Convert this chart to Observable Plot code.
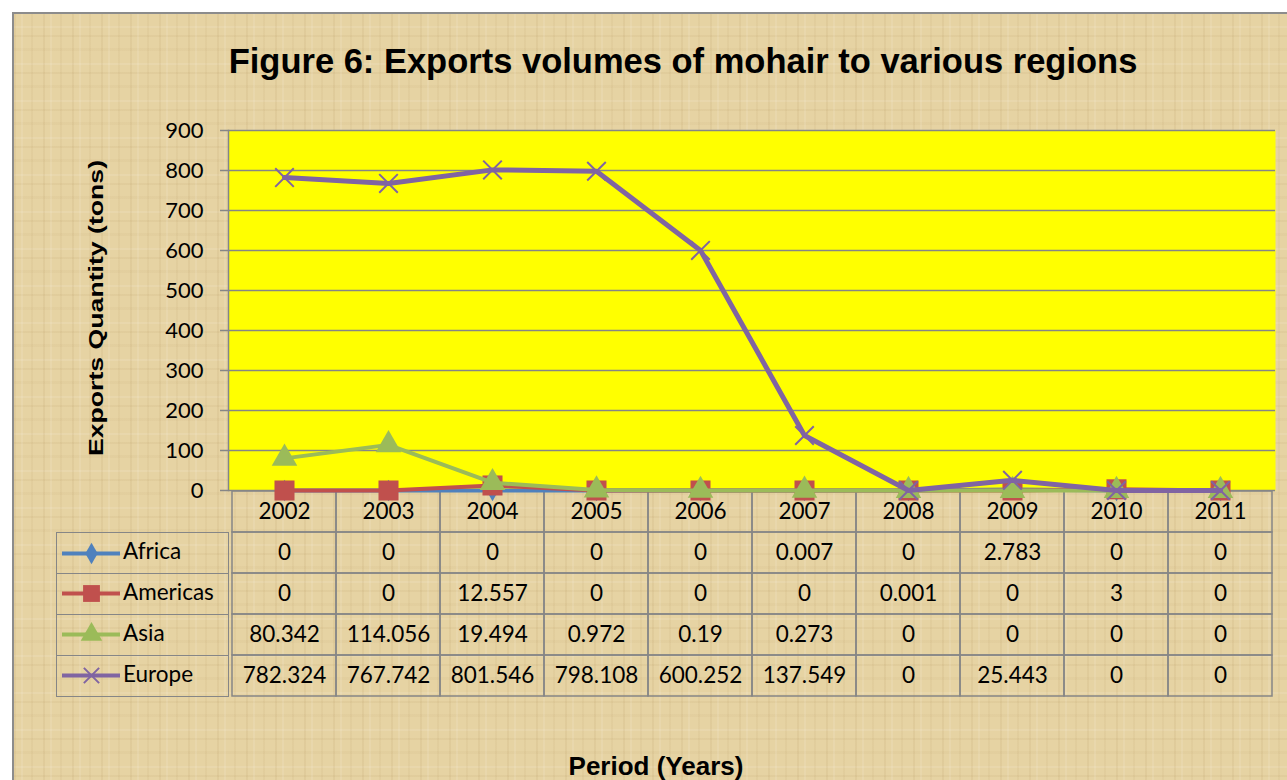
<!DOCTYPE html>
<html>
<head>
<meta charset="utf-8">
<script src="https://cdn.jsdelivr.net/npm/d3@7"></script>
<script src="https://cdn.jsdelivr.net/npm/@observablehq/plot@0.6"></script>
<style>
  html, body { margin: 0; padding: 0; }
  body { width: 1287px; height: 780px; overflow: hidden; background: #fff; position: relative; font-family: Lato, "Open Sans", sans-serif; }
  #bg {
    position: absolute; left: 12px; top: 12px; width: 1300px; height: 800px;
    border: 2px solid #8c8c8c;
    background:
      repeating-linear-gradient(90deg, rgba(140,100,40,0.07) 0 2px, transparent 2px 7px, rgba(255,255,255,0.10) 7px 9px, transparent 9px 17px, rgba(140,100,40,0.05) 17px 19px, transparent 19px 29px),
      repeating-linear-gradient(0deg, rgba(140,100,40,0.06) 0 2px, transparent 2px 9px, rgba(255,255,255,0.10) 9px 11px, transparent 11px 23px, rgba(140,100,40,0.04) 23px 26px, transparent 26px 37px),
      #E6D3A3;
  }
  #title { position: absolute; left: 0; width: 1366px; top: 42px; text-align: center; font: bold 34.5px "Liberation Sans", Arial, sans-serif; color: #000; white-space: nowrap; }
  #ylabel { position: absolute; left: 96px; top: 308px; transform: translate(-50%, -50%) rotate(-90deg) scaleX(1.3); white-space: nowrap; font: bold 20.5px "Liberation Sans", Arial, sans-serif; color: #000; }
  #xlabel { position: absolute; left: 656px; top: 766px; transform: translate(-50%, -50%) scaleX(1.0); white-space: nowrap; font: bold 26px "Liberation Sans", Arial, sans-serif; color: #000; }
  #chart { position: absolute; left: 0; top: 100px; z-index: 2; }
  #table { position: absolute; left: 0; top: 490px; z-index: 1; }
  #legend { position: absolute; z-index: 1; }
  .lrow { position: absolute; box-sizing: border-box; border: 1.5px solid #868686; border-top: none; display: flex; align-items: center; font-size: 22px; color: #000; }
  .lrow svg { margin-left: 5px; margin-right: 3px; flex: none; }
  .lrow span { position: relative; top: -2px; }
</style>
</head>
<body>
<div id="bg"></div>
<div id="title">Figure 6: Exports volumes of mohair to various regions</div>
<div id="ylabel">Exports Quantity (tons)</div>
<div id="xlabel">Period (Years)</div>
<div id="chart"></div>
<div id="table"></div>
<div id="legend"></div>
<script>
// ---- data ----
const years = ["2002", "2003", "2004", "2005", "2006", "2007", "2008", "2009", "2010", "2011"];
const africa   = [0, 0, 0, 0, 0, 0.007, 0, 2.783, 0, 0];
const americas = [0, 0, 12.557, 0, 0, 0, 0.001, 0, 3, 0];
const asia     = [80.342, 114.056, 19.494, 0.972, 0.19, 0.273, 0, 0, 0, 0];
const europe   = [782.324, 767.742, 801.546, 798.108, 600.252, 137.549, 0, 25.443, 0, 0];
const seriesNames = ["Africa", "Americas", "Asia", "Europe"];
const seriesColors = ["#4F81BD", "#C0504D", "#9BBB59", "#8064A2"];
const seriesSymbols = ["diamond", "square", "triangle", "times"];
const yTicks = [0, 100, 200, 300, 400, 500, 600, 700, 800, 900];

const seriesValues = [africa, americas, asia, europe];
const grid = "#868686";
const markerR = {diamond: 6.5, square: 11.3, triangle: 9.5, times: 8.5};
const keyR = {diamond: 6.5, square: 9.5, triangle: 8, times: 7};

const series = seriesNames.map((name, i) => ({
  name, color: seriesColors[i], symbol: seriesSymbols[i],
  points: years.map((year, j) => ({year, value: seriesValues[i][j]}))
}));

const seriesMarks = series.flatMap(s => {
  const line = Plot.line(s.points, {x: "year", y: "value", stroke: s.color, strokeWidth: s.name === "Europe" ? 5 : 4, curve: "linear"});
  const dots = s.symbol === "times"
    ? Plot.dot(s.points, {x: "year", y: "value", symbol: "times", r: markerR.times, stroke: s.color, strokeWidth: 2, fill: "none"})
    : Plot.dot(s.points, {x: "year", y: "value", symbol: s.symbol, r: markerR[s.symbol], fill: s.color, stroke: "none"});
  return [line, dots];
});

const chart = Plot.plot({
  width: 1287, height: 597,
  marginTop: 30, marginBottom: 207, marginLeft: 228, marginRight: 12,
  style: {background: "transparent", overflow: "visible", fontFamily: "Lato, 'Open Sans', sans-serif", color: "#000"},
  x: {type: "band", domain: years, padding: 0, axis: null},
  y: {domain: [0, 900], axis: null},
  marks: [
    Plot.frame({fill: "#FFFF00", stroke: "none"}),
    Plot.ruleY(yTicks, {stroke: grid, strokeWidth: 1.5}),
    Plot.axisY({ticks: yTicks, tickSize: 8, tickPadding: 17, stroke: grid, strokeWidth: 1.5, fontSize: 22, fill: "#000", label: null, tickFormat: d => String(d)}),
    Plot.frame({anchor: "left", stroke: grid, strokeWidth: 1.5}),
    ...seriesMarks
  ]
});
document.getElementById("chart").append(chart);

// ---- data table ----
const rows = ["year", ...seriesNames];
const cells = [
  ...years.map(year => ({year, row: "year", label: year})),
  ...series.flatMap(s => s.points.map(p => ({year: p.year, row: s.name, label: String(p.value)})))
];
const table = Plot.plot({
  width: 1287, height: 207,
  marginTop: 0, marginBottom: 0, marginLeft: 228, marginRight: 12,
  style: {background: "transparent", overflow: "visible", fontFamily: "Lato, 'Open Sans', sans-serif", color: "#000"},
  x: {type: "band", domain: years, padding: 0, axis: null},
  y: {type: "band", domain: rows, padding: 0, axis: null},
  marks: [
    Plot.cell(cells, {x: "year", y: "row", fill: "none", stroke: grid, strokeWidth: 1.5, inset: 0}),
    Plot.text(cells, {x: "year", y: "row", text: "label", fontSize: 22.5, fill: "#000", dy: 0})
  ]
});
document.getElementById("table").append(table);

// ---- legend column (series keys) ----
const ys = table.scale("y");
const bw = ys.bandwidth;
const legend = document.getElementById("legend");
series.forEach(s => {
  const top = 490 + ys.apply(s.name);
  const row = document.createElement("div");
  row.className = "lrow";
  row.style.left = "56px";
  row.style.top = top + "px";
  row.style.width = (228 - 56 + 1) + "px";
  row.style.height = (bw + 0.75) + "px";
  if (s.name === seriesNames[0]) row.style.borderTop = "1.5px solid " + grid;
  const key = Plot.plot({
    width: 58, height: 24, margin: 0,
    style: {background: "transparent", overflow: "visible"},
    x: {domain: [0, 1], axis: null}, y: {domain: [0, 1], axis: null},
    marks: [
      Plot.ruleY([0.5], {stroke: s.color, strokeWidth: 4}),
      s.symbol === "times"
        ? Plot.dot([0.5], {x: d => d, y: () => 0.5, symbol: "times", r: keyR.times, stroke: s.color, strokeWidth: 2, fill: "none"})
        : Plot.dot([0.5], {x: d => d, y: () => 0.5, symbol: s.symbol, r: keyR[s.symbol], fill: s.color})
    ]
  });
  row.append(key);
  const t = document.createElement("span");
  t.textContent = s.name;
  t.style.fontSize = "22.5px";
  row.append(t);
  legend.append(row);
});
</script>
</body>
</html>
